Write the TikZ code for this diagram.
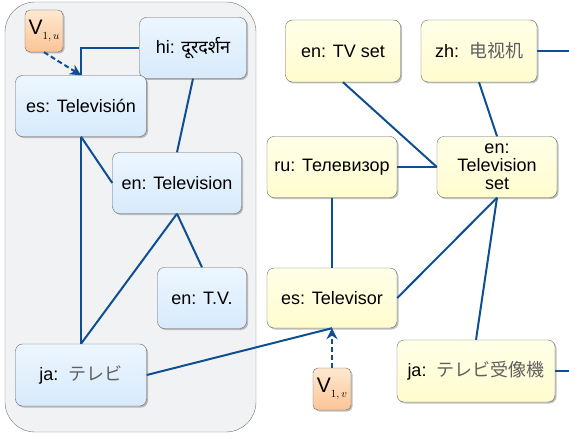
\documentclass[tikz,border=0pt]{standalone}
\usepackage{fontspec}
\setmainfont{Liberation Sans}
\newfontfamily\devfont[Script=Devanagari]{Noto Sans}
\newfontfamily\jafont{Noto Sans CJK JP}
\newfontfamily\zhfont{Noto Sans CJK SC}
\usetikzlibrary{arrows.meta,shadows}
\definecolor{linkblue}{RGB}{14,78,146}
\definecolor{bluetop}{RGB}{216,234,251}
\definecolor{bluebot}{RGB}{236,246,254}
\definecolor{yeltop}{RGB}{255,252,206}
\definecolor{yelbot}{RGB}{255,255,232}
\definecolor{orgtop}{RGB}{252,196,150}
\definecolor{orgbot}{RGB}{254,232,208}
\definecolor{groupfill}{RGB}{241,242,243}
\definecolor{cjkgray}{RGB}{95,95,95}

\begin{document}
\begin{tikzpicture}[x=1pt,y=-1pt,font=\fontsize{18}{18}\selectfont,>=Stealth,
  box/.style={draw=black!60,rounded corners=7pt,align=center,inner sep=1pt,
    drop shadow={shadow xshift=1.5pt,shadow yshift=-1.5pt,fill=black!50}},
  term/.style={box,top color=bluetop,bottom color=bluebot,shading angle=180},
  word/.style={box,top color=yeltop,bottom color=yelbot,shading angle=180},
  var/.style={box,rounded corners=5pt,top color=orgtop,bottom color=orgbot,
    shading angle=180,minimum width=38pt,minimum height=42pt,
    font=\fontsize{21}{21}\selectfont},
  group/.style={draw=black!55,fill=groupfill,rounded corners=30pt,
    minimum width=251pt,minimum height=430pt},
  link/.style={draw=linkblue,line width=2pt},
  pointer/.style={link,dash pattern=on 5pt off 3pt,
    -{Stealth[length=11pt,width=11pt]}}]
  \useasboundingbox (0,0) rectangle (569,441);
  \node[group] (grp) at (130.5,217) {};
  \node[term,minimum width=107pt,minimum height=61pt] (hi) at (193,48)
    {hi: {\devfont दूरदर्शन}};
  \node[term,minimum width=131pt,minimum height=61pt] (esTel) at (81,106)
    {es: Televisión};
  \node[term,minimum width=129pt,minimum height=61pt] (enTel) at (177,183)
    {en: Television};
  \node[term,minimum width=89pt,minimum height=61pt] (enTV) at (202,298)
    {en: T.V.};
  \node[term,minimum width=131pt,minimum height=62pt] (jaTv) at (81,375)
    {ja:\ \ {\jafont\color{cjkgray}テレビ}};
  \node[word,minimum width=115pt,minimum height=62pt] (enSet) at (343,51)
    {en: TV set};
  \node[word,minimum width=116pt,minimum height=62pt] (zhSet) at (479,51)
    {zh:\ \ {\zhfont\color{cjkgray}电视机}};
  \node[word,minimum width=130pt,minimum height=61pt] (ruTel) at (332,167)
    {ru: Телевизор};
  \node[word,minimum width=120pt,minimum height=61pt] (enTelSet) at (497,167)
    {en:\\Television\\set};
  \node[word,minimum width=130pt,minimum height=60pt] (esTelvr) at (332,298)
    {es: Televisor};
  \node[word,minimum width=158pt,minimum height=62pt] (jaSet) at (476,371)
    {ja:\ \ {\jafont\color{cjkgray}テレビ受像機}};
  \node[var] (vu) at (44,31)
    {V\raisebox{-5pt}{$\scriptscriptstyle 1,\,u$}};
  \node[var] (vv) at (332,389)
    {V\raisebox{-5pt}{$\scriptscriptstyle 1,\,v$}};
  \coordinate (zhOut) at (569,51);
  \coordinate (jaOut) at (569,371);
  \draw[link] (hi.west) -| (esTel.north);
  \draw[pointer] (vu.south) -- (esTel.north);
  \draw[pointer] (vv.north) -- (esTelvr.south);
  \foreach \a/\b in {hi.south/enTel.north, esTel.south/enTel.west,
      esTel.south/jaTv.north, enTel.south/jaTv.north, enTel.south/enTV.north,
      jaTv.east/esTelvr.south, esTelvr.north/ruTel.south,
      esTelvr.east/enTelSet.south, enSet.south/enTelSet.west,
      ruTel.east/enTelSet.west, zhSet.south/enTelSet.north,
      jaSet.north/enTelSet.south, zhSet.east/zhOut, jaSet.east/jaOut}
    \draw[link] (\a) -- (\b);
\end{tikzpicture}
\end{document}
